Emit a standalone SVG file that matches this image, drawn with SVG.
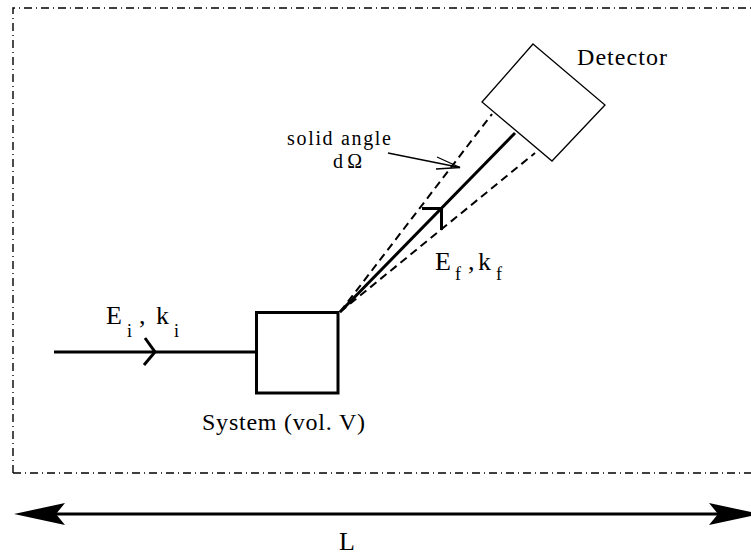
<svg xmlns="http://www.w3.org/2000/svg" width="751" height="558" viewBox="0 0 751 558">
<style>
.big{font-size:26px}
.sub{font-size:18px}
.beam{stroke:#000;stroke-width:3;fill:none}
.dash{stroke:#000;stroke-width:2;stroke-dasharray:8 5;fill:none}
.thin{stroke:#000;stroke-width:1.3;fill:none}
</style>
<rect width="751" height="558" fill="#fff"/>
<path d="M13 473 V8 H760 M13 473 H760" fill="none" stroke="#000" stroke-width="1.4" stroke-dasharray="8 4 1 4"/>
<g id="connectors">
<line class="beam" x1="54" y1="352" x2="256" y2="352"/>
<polyline class="beam" points="145,338 155,352 144,365"/>
<line class="dash" x1="340" y1="312" x2="492" y2="114"/>
<line class="dash" x1="340" y1="312" x2="535" y2="153"/>
<line class="beam" x1="340" y1="312" x2="515" y2="133"/>
<polyline class="beam" points="422,208.5 441.5,208.5 441.5,230"/>
<line class="thin" x1="388" y1="153" x2="460" y2="167.5"/>
<polyline class="thin" points="437,157 460,167.5 436,169"/>
<line class="beam" x1="30" y1="514" x2="740" y2="514"/>
<polygon points="14,514 65,503 56,514 65,525" fill="#000"/>
<polygon points="760,514 709,503 718,514 709,525" fill="#000"/>
</g>
<g font-family="'Times New Roman','Liberation Serif','DejaVu Serif',serif" fill="#000">
<g id="system">
<rect x="256.5" y="312.5" width="81.5" height="80.5" fill="#fff" stroke="#000" stroke-width="3"/>
<text font-size="24" x="202" y="430" textLength="163">System (vol. V)</text>
</g>
<g id="detector">
<polygon points="533,44 605,105 552,161 482,102" fill="#fff" stroke="#000" stroke-width="1.3"/>
<text font-size="24" x="577" y="65" textLength="90">Detector</text>
</g>
<g id="labels">
<text x="287" y="145" font-size="20" textLength="104">solid angle</text>
<text x="333" y="168" font-size="20" textLength="29">dΩ</text>
<text class="big" x="106" y="324">E</text>
<text class="sub" x="127" y="337">i</text>
<text class="big" x="139" y="324">,</text>
<text class="big" x="156" y="324">k</text>
<text class="sub" x="174" y="337">i</text>
<text class="big" x="435" y="270">E</text>
<text class="sub" x="455" y="280">f</text>
<text class="big" x="468" y="270">,</text>
<text class="big" x="478" y="270">k</text>
<text class="sub" x="496" y="280">f</text>
<text class="big" x="339" y="550">L</text>
</g>
</g>
</svg>
